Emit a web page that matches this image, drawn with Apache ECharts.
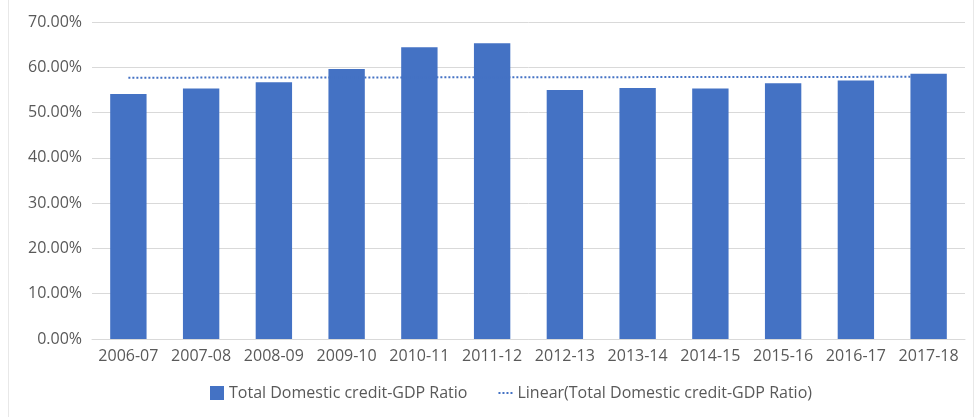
<!DOCTYPE html>
<html>
<head>
<meta charset="utf-8">
<script src="https://cdn.jsdelivr.net/npm/echarts@6/dist/echarts.min.js"></script>
<style>
  html, body { margin: 0; padding: 0; background: #fff; }
  #chart { width: 978px; height: 417px; }
</style>
</head>
<body>
<div id="chart"></div>
<script>
var years = ['2006-07', '2007-08', '2008-09', '2009-10', '2010-11', '2011-12',
             '2012-13', '2013-14', '2014-15', '2015-16', '2016-17', '2017-18'];

var creditRatio = [54.1, 55.3, 56.7, 59.6, 64.4, 65.3, 55.0, 55.4, 55.3, 56.5, 57.1, 58.6];

// trend line ends
var trendStart = 57.7;
var trendEnd = 57.9;

var yTicks = [0, 10, 20, 30, 40, 50, 60, 70];

var barName = 'Total Domestic credit-GDP Ratio';
var lineName = 'Linear(Total Domestic credit-GDP Ratio)';

var trendData = years.map(function (y, i) {
    if (i === 0) return trendStart;
    if (i === years.length - 1) return trendEnd;
    return null;
});

var chart = echarts.init(document.getElementById('chart'));

var textStyle = {
    color: '#595959',
    fontFamily: 'Open Sans',
    fontSize: 16
};

// faint frame edges left and right
var edge = { stroke: '#e8e8e8', lineWidth: 1 };

chart.setOption({
    animation: false,
    textStyle: textStyle,
    grid: {
        left: 92,
        right: 13,
        top: 22,
        bottom: 78
    },
    legend: {
        top: 380,
        left: 205,
        itemGap: 30,
        itemWidth: 14,
        itemHeight: 14,
        textStyle: textStyle,
        data: [
            { name: barName, icon: 'rect' },
            { name: lineName, itemStyle: { opacity: 0 } }
        ]
    },
    xAxis: {
        type: 'category',
        data: years,
        axisTick: { show: false },
        axisLine: { lineStyle: { color: '#d9d9d9', width: 1 } },
        axisLabel: { color: '#595959', fontSize: 16, fontFamily: 'Open Sans', margin: 9, interval: 0 }
    },
    yAxis: {
        type: 'value',
        min: yTicks[0],
        max: yTicks[yTicks.length - 1],
        interval: 10,
        axisLine: { show: false },
        axisTick: { show: false },
        splitLine: { lineStyle: { color: '#d9d9d9', width: 1 } },
        axisLabel: {
            color: '#595959',
            fontSize: 16,
            fontFamily: 'Open Sans',
            margin: 10,
            formatter: function (v) { return v.toFixed(2) + '%'; }
        }
    },
    graphic: [{
        type: 'line',
        shape: { x1: 8.5, y1: 0, x2: 8.5, y2: 417 },
        style: edge,
        silent: true
    }, {
        type: 'line',
        shape: { x1: 973.5, y1: 0, x2: 973.5, y2: 417 },
        style: edge,
        silent: true
    }],
    series: [{
        name: barName,
        type: 'bar',
        barWidth: '50%',
        itemStyle: { color: '#4472C4' },
        data: creditRatio
    }, {
        name: lineName,
        type: 'line',
        symbol: 'none',
        connectNulls: true,
        z: 5,
        itemStyle: { color: '#4472C4' },
        lineStyle: { color: '#4472C4', width: 2, type: [2, 2] },
        data: trendData
    }]
});
</script>
</body>
</html>
